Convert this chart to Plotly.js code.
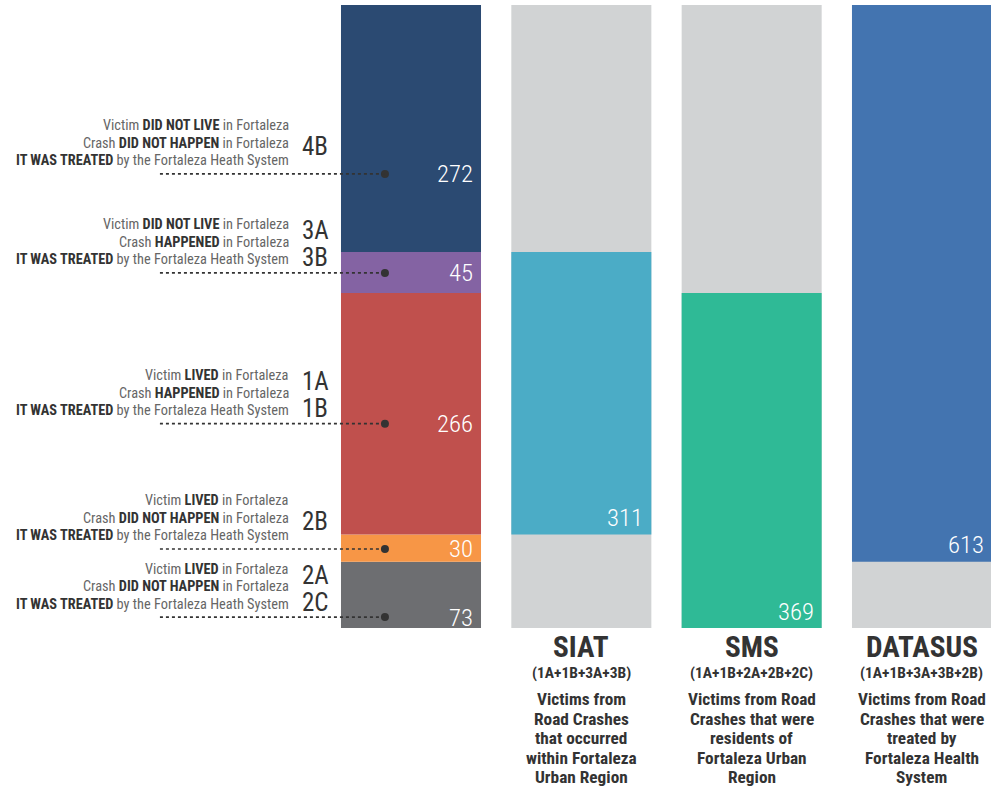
<!DOCTYPE html>
<html><head><meta charset="utf-8">
<script src="https://cdn.plot.ly/plotly-3.0.1.min.js"></script>
<style>body{margin:0;background:#fff}#chart{width:991px;height:787px}</style>
</head><body><div id="chart"></div>
<script>
// ---- data ----
const segCodes = [["2A", "2C"], ["2B"], ["1A", "1B"], ["3A", "3B"], ["4B"]];   // bottom -> top
const segValues = [73, 30, 266, 45, 272];
const segColors = ["#6d6e71", "#f79646", "#c0504d", "#8463a3", "#2b4a72"];
const calloutY = [12, 87, 225, 391, 500];   // where the callout lines meet column 1
const line1 = ["Victim <b>LIVED</b> in Fortaleza", "Victim <b>LIVED</b> in Fortaleza", "Victim <b>LIVED</b> in Fortaleza", "Victim <b>DID NOT LIVE</b> in Fortaleza", "Victim <b>DID NOT LIVE</b> in Fortaleza"];
const line2 = ["Crash <b>DID NOT HAPPEN</b> in Fortaleza", "Crash <b>DID NOT HAPPEN</b> in Fortaleza", "Crash <b>HAPPENED</b> in Fortaleza", "Crash <b>HAPPENED</b> in Fortaleza", "Crash <b>DID NOT HAPPEN</b> in Fortaleza"];
const line3 = "<b>IT WAS TREATED</b> by the Fortaleza Heath System";

const sysNames = ["SIAT", "SMS", "DATASUS"];
const sysFormula = ["(1A+1B+3A+3B)", "(1A+1B+2A+2B+2C)", "(1A+1B+3A+3B+2B)"];
const sysDesc = [["Victims from", "Road Crashes", "that occurred", "within Fortaleza", "Urban Region"],
                 ["Victims from Road", "Crashes that were", "residents of", "Fortaleza Urban", "Region"],
                 ["Victims from Road", "Crashes that were", "treated by", "Fortaleza Health", "System"]];
const sysValues = [311, 369, 613];
const sysBase = [73 + 30, 0, 73];
const sysColors = ["#4bacc6", "#2fba96", "#4374b0"];
const bgGray = "#d1d3d4";

// ---- font ----
const FONT = '"Roboto Condensed", "Liberation Sans Narrow", "DejaVu Sans Condensed", Roboto, sans-serif';
const ctx = document.createElement("canvas").getContext("2d");
function measure(html, size, bold, weight) {
  let b = !!bold, tot = 0;
  html.split(/(<b>|<\/b>)/).forEach(p => {
    if (p === "<b>") b = true; else if (p === "</b>") b = false;
    else if (p) { ctx.font = `${b ? "bold" : (weight || "normal")} ${size}px ${FONT}`; tot += ctx.measureText(p).width; }
  });
  return tot;
}
const fit = (html, target, bold, weight) => 20 * target / measure(html, 20, bold, weight);
const sLeft = fit(line3, 274);
const sVal = fit("272", 36, false, 300);
const sCode = fit("4B", 26);
const sTitle = fit("DATASUS", 112, true);
const sForm = fit("(1A+1B+2A+2B+2C)", 123, true);
const sDesc = fit("Victims from Road", 128, true);

// ---- build ----
const PX = 170.33;          // pixels per x unit
const W = 0.822;
const total = segValues.reduce((a, b) => a + b, 0);
const traces = [], annotations = [], shapes = [];
const txt = (x, y, text, size, color, o) => Object.assign({x, y, xref: "x", yref: "y", yanchor: "middle",
  text, showarrow: false, font: {family: FONT, size, color}}, o || {});
const valFont = {family: FONT, size: sVal, color: "#ffffff", weight: 300};

let acc = 0;
segValues.forEach((v, i) => {
  traces.push({type: "bar", x: [0], y: [v], base: [acc], width: W,
    marker: {color: segColors[i], line: {width: 0}}, hoverinfo: "skip", showlegend: false});
  annotations.push(txt(0, calloutY[i], String(v), sVal, "#ffffff", {xanchor: "right", xshift: W / 2 * PX - 6, font: valFont}));
  acc += v;
});

sysNames.forEach((n, i) => {
  const xi = i + 1;
  traces.push({type: "bar", x: [xi], y: [total], base: [0], width: W,
    marker: {color: bgGray, line: {width: 0}}, hoverinfo: "skip", showlegend: false});
  traces.push({type: "bar", x: [xi], y: [sysValues[i]], base: [sysBase[i]], width: W,
    marker: {color: sysColors[i], line: {width: 0}}, hoverinfo: "skip", showlegend: false});
  annotations.push(txt(xi, sysBase[i], String(sysValues[i]), sVal, "#ffffff",
    {xanchor: "right", xshift: W / 2 * PX - 6, yshift: 17, font: valFont}));
  annotations.push(txt(xi, 0, "<b>" + n + "</b>", sTitle, "#333333", {yref: "paper", xanchor: "center", yshift: -19}));
  annotations.push(txt(xi, 0, "<b>" + sysFormula[i] + "</b>", sForm, "#333333", {yref: "paper", xanchor: "center", yshift: -45}));
  sysDesc[i].forEach((d, k) => {
    annotations.push(txt(xi, 0, "<b>" + d + "</b>", sDesc, "#333333",
      {yref: "paper", xanchor: "center", yshift: -71 - 19.5 * k}));
  });
});

const lineX0 = -1.474, lineX1 = -0.153, textX = -0.704, codeX = -0.652;
const dim = s => s.replace(/<b>/g, '<span style="color:#333333"><b>').replace(/<\/b>/g, '</b></span>');
segValues.forEach((v, i) => {
  shapes.push({type: "line", xref: "x", yref: "y", x0: lineX0, x1: lineX1, y0: calloutY[i], y1: calloutY[i],
    line: {color: "#333333", width: 1.6, dash: "dot"}});
  [line1[i], line2[i], line3].forEach((l, k) => {
    annotations.push(txt(textX, calloutY[i], dim(l), sLeft, "#666666", {xanchor: "right", yshift: 48 - 17.5 * k}));
  });
  const codes = segCodes[i];
  const offs = codes.length === 1 ? [27] : [42, 15];
  codes.forEach((c, k) => annotations.push(txt(codeX, calloutY[i], c, sCode, "#333333", {xanchor: "left", yshift: offs[k]})));
});
traces.push({type: "scatter", mode: "markers", x: calloutY.map(() => lineX1), y: calloutY,
  marker: {color: "#333333", size: 8}, hoverinfo: "skip", showlegend: false, cliponaxis: false});

const layout = {
  width: 991, height: 787, barmode: "overlay",
  margin: {l: 0, r: 0, t: 5, b: 159, pad: 0},
  paper_bgcolor: "#ffffff", plot_bgcolor: "#ffffff",
  xaxis: {range: [-411 / PX, 580 / PX], showgrid: false, zeroline: false, showticklabels: false, showline: false, fixedrange: true},
  yaxis: {range: [0, total], showgrid: false, zeroline: false, showticklabels: false, showline: false, fixedrange: true},
  annotations, shapes, showlegend: false, font: {family: FONT}
};
Plotly.newPlot("chart", traces, layout, {displayModeBar: false, staticPlot: true});
</script></body></html>
